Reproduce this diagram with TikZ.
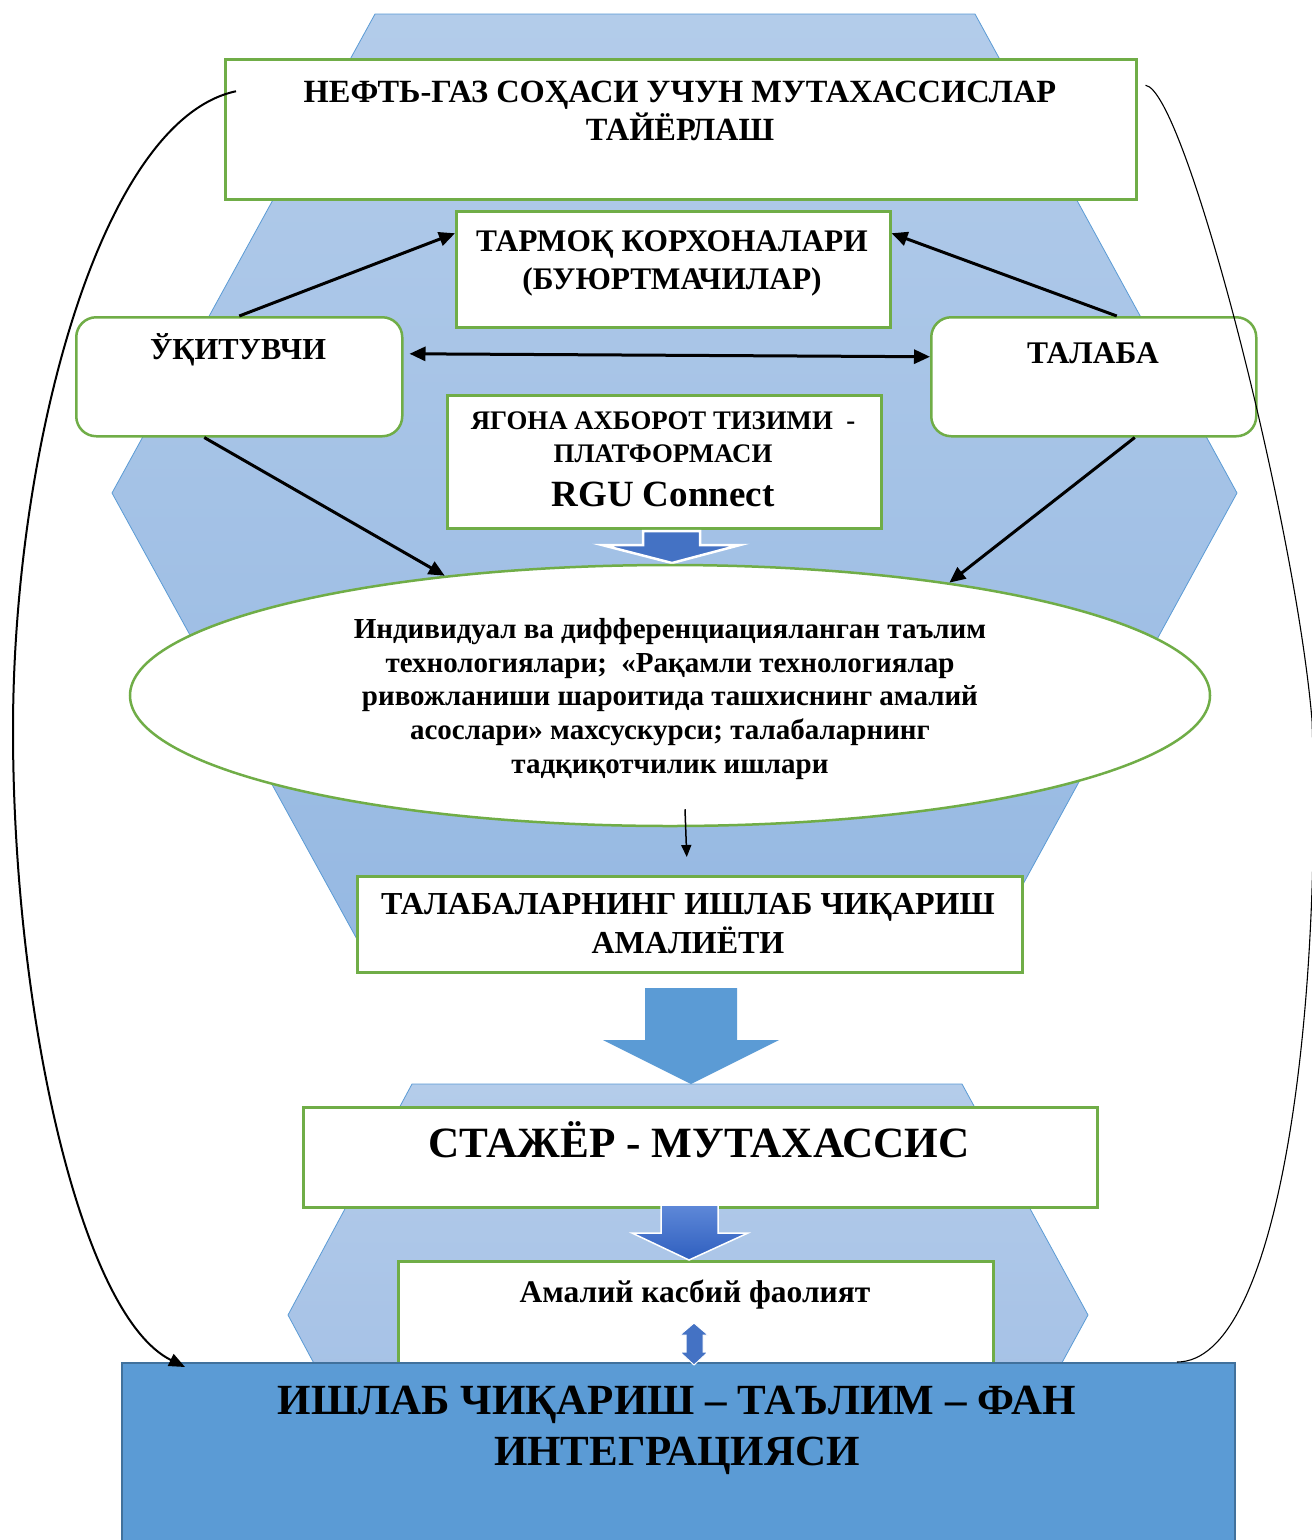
\documentclass[tikz,border=0pt]{standalone}
\usepackage{fontspec}
\setmainfont{Liberation Serif}
\usetikzlibrary{arrows.meta,shapes.geometric,calc}
\definecolor{grn}{HTML}{70AD47}
\definecolor{bl}{HTML}{5B9BD5}
\definecolor{bldark}{HTML}{41719C}
\definecolor{arrblue}{HTML}{4472C4}
\definecolor{arrtop}{HTML}{5E88D8}
\definecolor{arrbot}{HTML}{2F5FBF}
\definecolor{hextop}{HTML}{B3CCEA}
\definecolor{hexbot}{HTML}{95B8E2}
\definecolor{hexbtop}{HTML}{B4CCEA}
\definecolor{hexbbot}{HTML}{9EBCE4}
\begin{document}
\begin{tikzpicture}[x=1pt,y=-1pt,
  gbox/.style={draw=grn, line width=2.5pt, fill=white, inner sep=0pt, anchor=north west},
  rbox/.style={gbox, rounded corners=20pt},
  txt/.style={align=center, inner sep=0pt},
  conn/.style={line width=3pt, -{Triangle[length=16pt,width=14pt]}},
  dconn/.style={line width=3pt, {Triangle[length=16pt,width=14pt]}-{Triangle[length=16pt,width=14pt]}},
  thinconn/.style={line width=1.5pt, -{Triangle[length=12pt,width=10pt]}},
  loopconn/.style={line width=2pt, -{Triangle[length=16pt,width=13pt]}},
  hexa/.style={draw=bl, line width=0.8pt},
]
\useasboundingbox (0,0) rectangle (1312,1540);
\fill[white] (0,0) rectangle (1312,1540);

% background hexagons
\shadedraw[hexa, top color=hextop, bottom color=hexbot]
  (375,14) -- (975,14) -- (1237,493) -- (975,972) -- (375,972) -- (112,493) -- cycle;
\shadedraw[hexa, top color=hexbtop, bottom color=hexbbot]
  (412,1084) -- (962,1084) -- (1088,1315) -- (962,1546) -- (412,1546) -- (288,1315) -- cycle;

% boxes
\node[gbox, minimum width=911, minimum height=140] (top) at (224,58) {};
\node[txt, font=\fontsize{32.4}{38}\selectfont\bfseries] (toptxt) at (680,111)
  {НЕФТЬ-ГАЗ СОҲАСИ УЧУН МУТАХАССИСЛАР\\ТАЙЁРЛАШ};

\node[gbox, minimum width=434, minimum height=116] (tarm) at (455,210) {};
\node[txt, font=\fontsize{31.4}{38}\selectfont\bfseries] (tarmtxt) at (672,263)
  {ТАРМОҚ КОРХОНАЛАРИ\\(БУЮРТМАЧИЛАР)};

\node[rbox, minimum width=326, minimum height=119] (uk) at (75,316) {};
\node[txt, font=\fontsize{30.5}{34}\selectfont\bfseries] (uktxt) at (238,350) {ЎҚИТУВЧИ};

\node[rbox, minimum width=325, minimum height=119] (tal) at (930,316) {};
\node[txt, font=\fontsize{31.5}{34}\selectfont\bfseries] (taltxt) at (1093,353) {ТАЛАБА};

\node[gbox, minimum width=434, minimum height=133] (yag) at (446,394) {};
\node[txt, font=\fontsize{26.8}{33}\selectfont\bfseries] (yagtxt) at (663,437)
  {ЯГОНА АХБОРОТ ТИЗИМИ\ \ -\\ПЛАТФОРМАСИ};
\node[txt, font=\fontsize{37}{40}\selectfont\bfseries] (rgu) at (663,494) {RGU Connect};

% small arrow below platform box
\draw[white, line width=2.5pt, fill=arrblue] (643,531) -- (700,531) -- (700,545) -- (740,545)
  -- (672,563) -- (602,545) -- (643,545) -- cycle;

% ellipse
\node[ellipse, draw=grn, line width=2.5pt, fill=white, minimum width=1080, minimum height=261, inner sep=0pt]
  (ell) at (670,695.5) {};
\node[txt, font=\fontsize{29}{33.8}\selectfont\bfseries] (elltxt) at (670,699)
  {Индивидуал ва дифференциацияланган таълим\\
   технологиялари;\ \ «Рақамли технологиялар\\
   ривожланиши шароитида ташхиснинг амалий\\
   асослари» махсускурси; талабаларнинг\\
   тадқиқотчилик ишлари};

\node[gbox, minimum width=665, minimum height=96] (amal) at (356,875) {};
\node[txt, font=\fontsize{32}{39}\selectfont\bfseries] (amaltxt) at (688,924)
  {ТАЛАБАЛАРНИНГ ИШЛАБ ЧИҚАРИШ\\АМАЛИЁТИ};

% big down arrow
\fill[bl] (645,988) -- (737,988) -- (737,1040) -- (779,1040) -- (691,1084) -- (603,1040) -- (645,1040) -- cycle;

\node[gbox, minimum width=794, minimum height=100] (stag) at (302,1106) {};
\node[txt, font=\fontsize{43.2}{48}\selectfont\bfseries] (stagtxt) at (699,1140) {СТАЖЁР - МУТАХАССИС};

\node[gbox, minimum width=595, minimum height=115] (prof) at (397,1260) {};
\node[txt, font=\fontsize{31.5}{36}\selectfont\bfseries] (proftxt) at (695,1295) {Амалий касбий фаолият};

% arrow between stazhyor and practice
\shadedraw[top color=arrtop, bottom color=arrbot, draw=white, line width=1.5pt]
  (661,1205) -- (718,1205) -- (718,1233) -- (748,1233) -- (689,1260) -- (632,1233) -- (661,1233) -- cycle;

% bottom integration box
\node[draw=bldark, line width=2pt, fill=bl, minimum width=1113, minimum height=182, inner sep=0pt, anchor=north west]
  (integ) at (121,1362) {};
\node[txt, font=\fontsize{43}{51}\selectfont\bfseries] (integtxt) at (677,1430)
  {ИШЛАБ ЧИҚАРИШ – ТАЪЛИМ – ФАН\\ИНТЕГРАЦИЯСИ};

% double arrow practice <-> integration
\draw[white, line width=1pt, fill=arrblue] (694,1323) -- (708,1335) -- (703,1335) -- (703,1352) -- (708,1352)
  -- (694,1365) -- (680,1352) -- (686,1352) -- (686,1335) -- (680,1335) -- cycle;

% connectors
\draw[conn] (uk.north) -- ([yshift=36pt]tarm.west);
\draw[conn] ([xshift=23pt]tal.north) -- ([yshift=36pt]tarm.east);
\draw[dconn, shorten <=6pt] ([yshift=23pt]uk.east) -- ([yshift=20pt]tal.west);
\draw[conn] ([xshift=-35pt]uk.south) -- (ell.152);
\draw[conn] ([xshift=41pt]tal.south) -- (ell.22);
\draw[thinconn] ([xshift=15pt,yshift=18pt]ell.south) -- ([xshift=-3pt,yshift=18pt]amal.north);

% loop curves
\draw[loopconn] ([xshift=12pt,yshift=38pt]top.west) .. controls (100,120) and (13,450) .. (13,730)
  .. controls (13,1010) and (80,1315) .. ([xshift=64pt,yshift=-5pt]integ.north west);
\draw[line width=1.1pt] ([xshift=8pt,yshift=44pt]top.east) .. controls (1185,90) and (1295,520) .. (1312,720)
  .. controls (1322,1010) and (1280,1362) .. ([xshift=-59pt]integ.north east);
\end{tikzpicture}
\end{document}
